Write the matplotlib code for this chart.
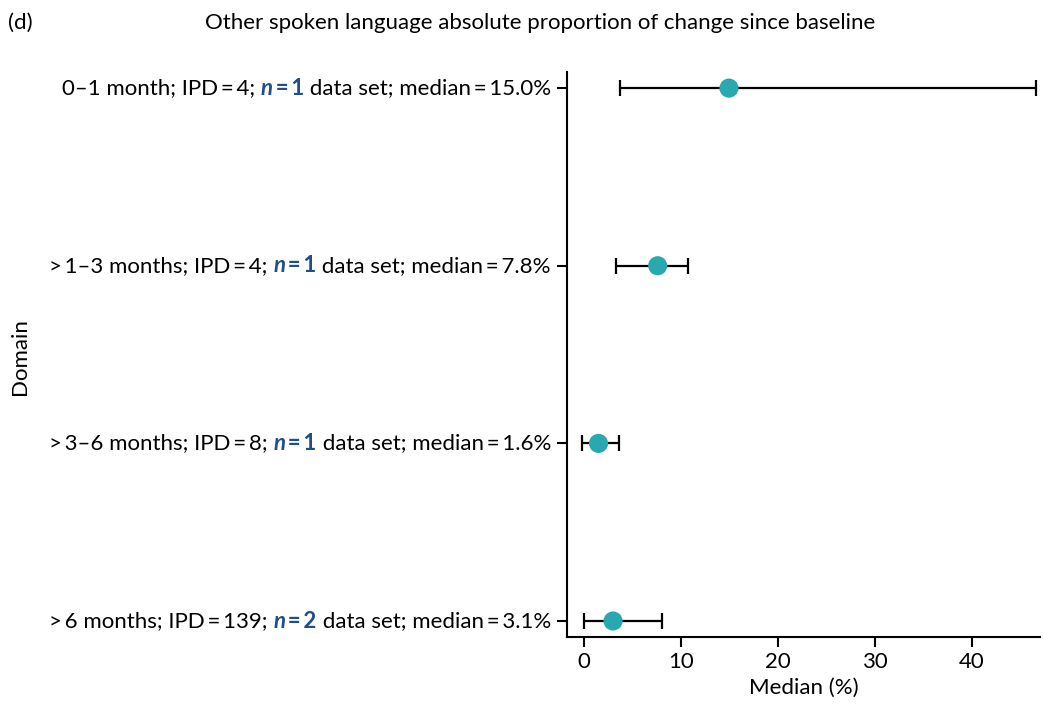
"""
Forest-style plot: other spoken language absolute proportion of change since baseline.
"""
import matplotlib
matplotlib.use("Agg")
import matplotlib.pyplot as plt
from matplotlib.transforms import offset_copy

plt.rcParams['font.family'] = ['Lato', 'DejaVu Sans']

# Data
periods = ["0\u20131 month", ">\u20091\u20133 months", ">\u20093\u20136 months", ">\u20096 months"]
ipd = [4, 4, 8, 139]
n_sets = [1, 1, 1, 2]
medians = [15.0, 7.8, 1.6, 3.1]
point_x = [14.95, 7.6, 1.5, 3.0]
lower = [3.7, 3.3, -0.2, 0.0]
upper = [46.6, 10.7, 3.6, 8.0]

teal = '#2aa8b0'
navy = '#1f4e8c'
fs = 16

fig = plt.figure(figsize=(10.43, 7.07), dpi=100)
ax = fig.add_axes([0.5436, 0.099, 0.4534, 0.799])

ypos = list(range(len(periods)))
for y, px, lo, hi in zip(ypos, point_x, lower, upper):
    ax.errorbar([px], [y], xerr=[[px - lo], [hi - px]], fmt='none',
                ecolor='black', elinewidth=1.6, capsize=6, capthick=1.6, zorder=2)
    ax.scatter([px], [y], s=190, color=teal, zorder=3, edgecolors='none')

ax.set_xlim(-1.75, 47.0)
ax.set_ylim(3.09, -0.09)
ax.set_xticks([0, 10, 20, 30, 40])
ax.set_yticks(ypos)
ax.set_yticklabels([''] * len(ypos))
ax.tick_params(axis='both', direction='out', length=7, width=1.5, labelsize=fs, pad=4)
ax.tick_params(axis='x', pad=4)
for s in ['top', 'right']:
    ax.spines[s].set_visible(False)
for s in ['left', 'bottom']:
    ax.spines[s].set_linewidth(1.5)
ax.set_xlabel('Median (%)', fontsize=fs, labelpad=4)

# Mixed-style y labels built right-to-left
fig.canvas.draw()
renderer = fig.canvas.get_renderer()
thin = '\u2009=\u2009'
for y, per, ip, n, med in zip(ypos, periods, ipd, n_sets, medians):
    parts = [
        (f"{per}; IPD{thin}{ip}; ", dict(color='black')),
        (f"n", dict(color=navy, fontweight='bold', fontstyle='italic')),
        (f"{thin}{n}", dict(color=navy, fontweight='bold')),
        (f" data set; median{thin}{med:.1f}%", dict(color='black')),
    ]
    offset = -16
    for txt, kw in reversed(parts):
        tr = offset_copy(ax.get_yaxis_transform(), fig=fig, x=offset, y=0, units='dots')
        t = ax.text(0, y, txt, transform=tr, ha='right', va='center', fontsize=fs, **kw)
        bb = t.get_window_extent(renderer)
        offset -= bb.width

fig.text(0.019, 0.496, 'Domain', rotation=90, fontsize=fs, ha='center', va='center')
fig.text(0.008, 0.968, '(d)', fontsize=fs, ha='left', va='center')
fig.text(0.518, 0.968, 'Other spoken language absolute proportion of change since baseline',
         fontsize=fs, ha='center', va='center')

fig.savefig('out.png', dpi=100)
